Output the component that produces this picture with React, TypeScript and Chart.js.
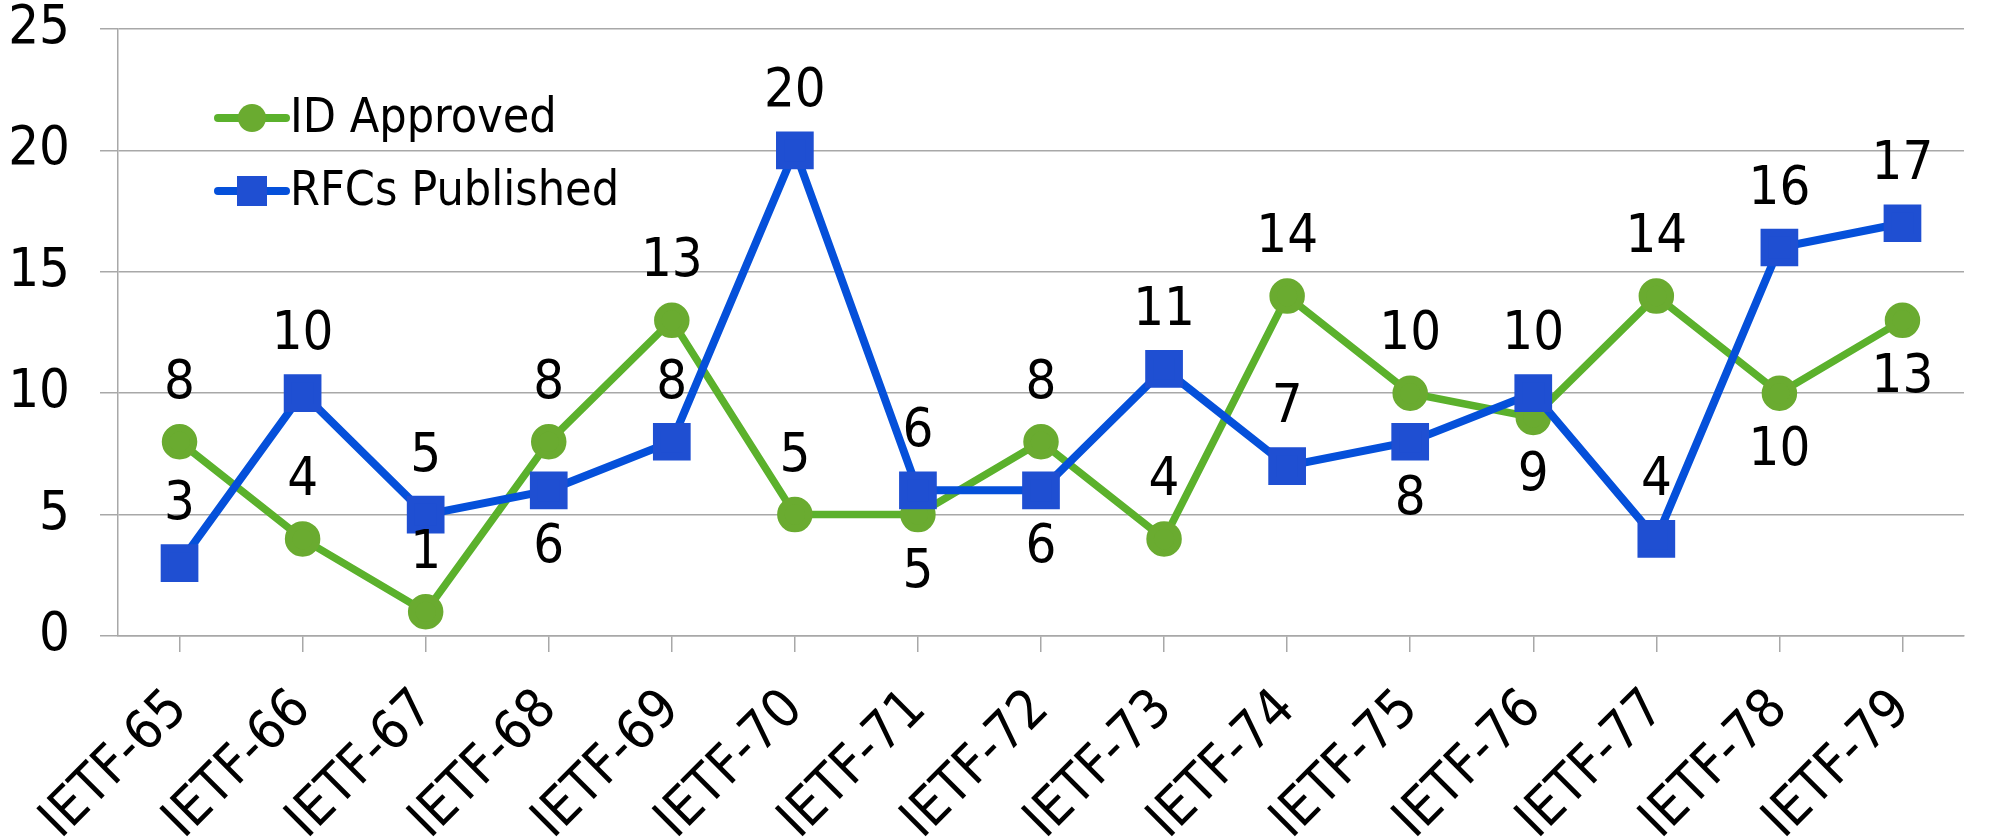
import React, { useEffect, useRef } from "react";
import { Chart, registerables } from "chart.js";

Chart.register(...registerables);

const categories = [
  "IETF-65", "IETF-66", "IETF-67", "IETF-68", "IETF-69", "IETF-70", "IETF-71", "IETF-72",
  "IETF-73", "IETF-74", "IETF-75", "IETF-76", "IETF-77", "IETF-78", "IETF-79",
];
const idApproved = [8, 4, 1, 8, 13, 5, 5, 8, 4, 14, 10, 9, 14, 10, 13];
const rfcsPublished = [3, 10, 5, 6, 8, 20, 6, 6, 11, 7, 8, 10, 4, 16, 17];
// label side: "a" = above the point, "b" = below the point
const idLabelSide = ["a", "a", "a", "a", "a", "a", "b", "a", "a", "a", "a", "b", "a", "b", "b"];
const rfcLabelSide = ["a", "a", "a", "b", "a", "a", "a", "b", "a", "a", "b", "a", "a", "a", "a"];
const yMin = 0;
const yMax = 25;
const yStep = 5;

const FONT = "'DejaVu Sans Condensed', 'DejaVu Sans', sans-serif";
const GREEN_LINE = "#5BB12C";
const GREEN_POINT = "#6AAB30";
const BLUE_LINE = "#0550DA";
const BLUE_POINT = "#1F4FD2";
const GRID = "#A8A8A8";

const labelPlugin = {
  id: "valueLabels",
  afterDatasetsDraw(chart: any) {
    const ctx = chart.ctx;
    ctx.save();
    ctx.font = `54px ${FONT}`;
    ctx.fillStyle = "#000";
    ctx.textAlign = "center";
    ctx.textBaseline = "middle";
    chart.data.datasets.forEach((ds: any, di: number) => {
      const meta = chart.getDatasetMeta(di);
      const sides = ds.labelSides as string[];
      meta.data.forEach((pt: any, i: number) => {
        const side = sides[i];
        const dy = side === "a" ? -58 : 58;
        ctx.fillText(String(ds.data[i]), pt.x, pt.y + dy);
      });
    });
    ctx.restore();
  },
};

const legendPlugin = {
  id: "insideLegend",
  afterDraw(chart: any) {
    const ctx = chart.ctx;
    const order = [0, 1];
    const rows = [118, 191];
    ctx.save();
    order.forEach((di, r) => {
      const ds = chart.data.datasets[di];
      const y = rows[r];
      const x0 = 218;
      const x1 = 286;
      const cx = (x0 + x1) / 2;
      ctx.strokeStyle = ds.borderColor;
      ctx.lineWidth = 8;
      ctx.lineCap = "round";
      ctx.beginPath();
      ctx.moveTo(x0, y);
      ctx.lineTo(x1, y);
      ctx.stroke();
      ctx.fillStyle = ds.pointBackgroundColor;
      if (ds.pointStyle === "rect") {
        ctx.fillRect(cx - 15, y - 15, 30, 30);
      } else {
        ctx.beginPath();
        ctx.arc(cx, y, 14, 0, Math.PI * 2);
        ctx.fill();
      }
      ctx.fillStyle = "#000";
      ctx.font = `48px ${FONT}`;
      ctx.textAlign = "left";
      ctx.textBaseline = "middle";
      ctx.fillText(ds.label, 290, y + 2);
    });
    ctx.restore();
  },
};

export default function App() {
  const canvasRef = useRef<HTMLCanvasElement | null>(null);

  useEffect(() => {
    document.body.style.margin = "0";
    const canvas = canvasRef.current;
    if (!canvas) return;
    const chart = new Chart(canvas, {
      type: "line",
      data: {
        labels: categories,
        datasets: [
          {
            label: "ID Approved",
            data: idApproved,
            borderColor: GREEN_LINE,
            backgroundColor: GREEN_POINT,
            pointBackgroundColor: GREEN_POINT,
            pointBorderColor: GREEN_POINT,
            pointStyle: "circle",
            pointRadius: 14,
            borderWidth: 7.5,
            tension: 0,
            order: 1,
            labelSides: idLabelSide,
          } as any,
          {
            label: "RFCs Published",
            data: rfcsPublished,
            borderColor: BLUE_LINE,
            backgroundColor: BLUE_POINT,
            pointBackgroundColor: BLUE_POINT,
            pointBorderColor: BLUE_POINT,
            pointStyle: "rect",
            pointRadius: 21,
            borderWidth: 8,
            tension: 0,
            order: 0,
            labelSides: rfcLabelSide,
          } as any,
        ],
      },
      options: {
        animation: false,
        responsive: false,
        maintainAspectRatio: false,
        layout: { padding: { top: 28, right: 8, left: 0, bottom: 0 } },
        plugins: {
          legend: { display: false },
          tooltip: { enabled: false },
        },
        scales: {
          x: {
            offset: true,
            grid: {
              drawOnChartArea: false,
              drawTicks: true,
              tickLength: 16,
              offset: false,
              color: GRID,
              lineWidth: 1.5,
            },
            border: { display: true, color: GRID, width: 1.5 },
            ticks: {
              minRotation: 45,
              maxRotation: 45,
              autoSkip: false,
              padding: 26,
              color: "#000",
              font: { family: FONT, size: 54 },
            },
            afterFit: (scale: any) => {
              scale.height = 201;
              scale.paddingLeft = 0;
              scale.paddingRight = 0;
            },
          },
          y: {
            min: yMin,
            max: yMax,
            ticks: {
              stepSize: yStep,
              padding: 30,
              color: "#000",
              font: { family: FONT, size: 54 },
            },
            grid: {
              color: GRID,
              lineWidth: 1.5,
              drawTicks: true,
              tickLength: 18,
            },
            border: { display: true, color: GRID, width: 1.5 },
            afterFit: (scale: any) => {
              scale.width = 118;
              scale.paddingTop = 0;
              scale.paddingBottom = 0;
            },
          },
        },
      },
      plugins: [labelPlugin, legendPlugin],
    });
    return () => chart.destroy();
  }, []);

  return (
    <div style={{ width: 1993, height: 837, background: "#fff" }}>
      <canvas ref={canvasRef} width={1993} height={837} style={{ display: "block" }} />
    </div>
  );
}
